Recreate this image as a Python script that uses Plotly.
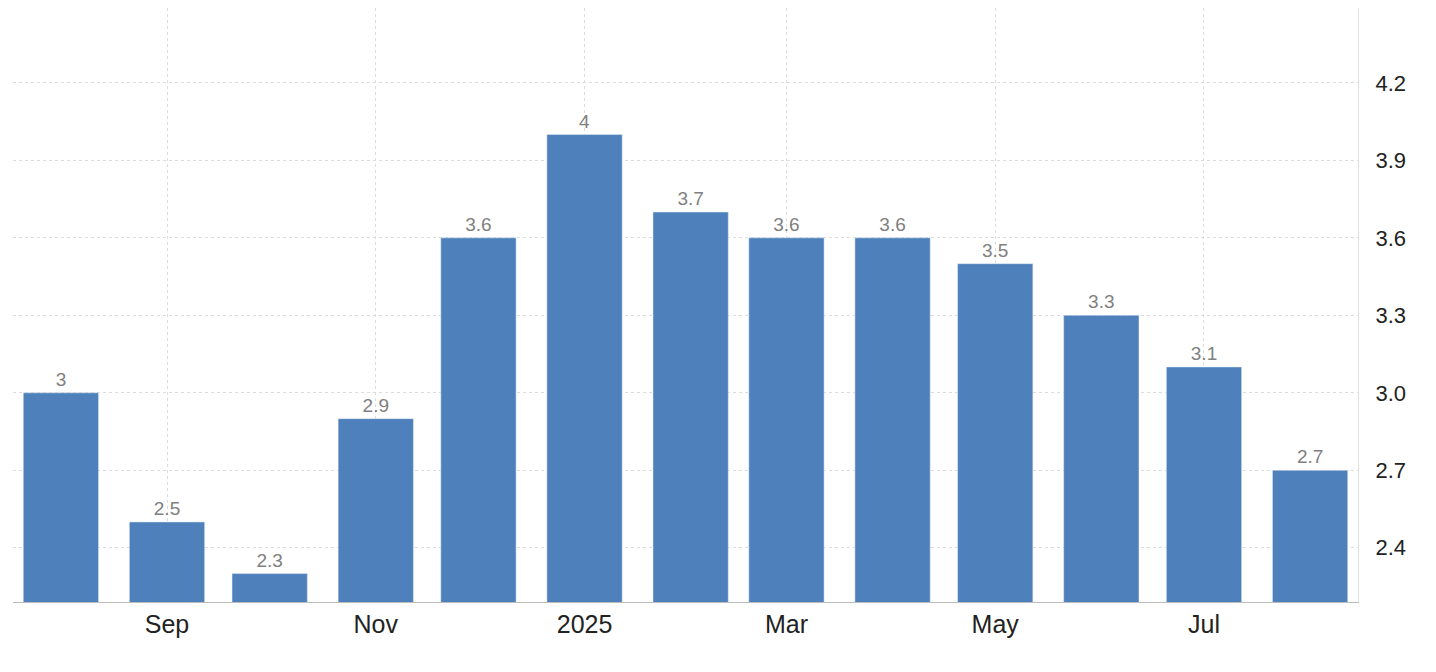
import plotly.graph_objects as go

months = ["2024-08-01", "2024-09-01", "2024-10-01", "2024-11-01", "2024-12-01", "2025-01-01",
          "2025-02-01", "2025-03-01", "2025-04-01", "2025-05-01", "2025-06-01", "2025-07-01",
          "2025-08-01"]
values = [3, 2.5, 2.3, 2.9, 3.6, 4, 3.7, 3.6, 3.6, 3.5, 3.3, 3.1, 2.7]
x_ticks = ["2024-09-01", "2024-11-01", "2025-01-01", "2025-03-01", "2025-05-01", "2025-07-01"]
x_labels = ["Sep", "Nov", "2025", "Mar", "May", "Jul"]
y_ticks = [2.4, 2.7, 3.0, 3.3, 3.6, 3.9, 4.2]

day_ms = 86400000
fig = go.Figure(go.Bar(
    x=months, y=values, width=22 * day_ms, marker_color="#4e81bb",
    text=[f"{v:g}" for v in values], textposition="outside", cliponaxis=False,
    textfont=dict(color="#808080", size=19, family="Liberation Sans"),
))
fig.update_layout(
    width=1436, height=672, margin=dict(l=5, r=86, t=0, b=78),
    plot_bgcolor="white", paper_bgcolor="white", showlegend=False,
    font=dict(family="Liberation Sans", color="#222"),
)
fig.update_xaxes(type="date", range=["2024-07-18", "2025-08-15"],
                 tickvals=x_ticks, ticktext=x_labels, tickfont=dict(size=25),
                 showgrid=True, gridcolor="#dcdcdc", griddash="dot",
                 showline=True, linecolor="#bbb", mirror=False, ticks="")
fig.update_yaxes(side="right", range=[2.19, 4.49], tickvals=y_ticks,
                 ticktext=[f"{v:.1f}" for v in y_ticks], tickfont=dict(size=22),
                 showgrid=True, gridcolor="#dcdcdc", griddash="dot",
                 showline=True, linecolor="#e0e0e0", ticks="", ticklabelstandoff=12)
fig.write_html("out.html")
